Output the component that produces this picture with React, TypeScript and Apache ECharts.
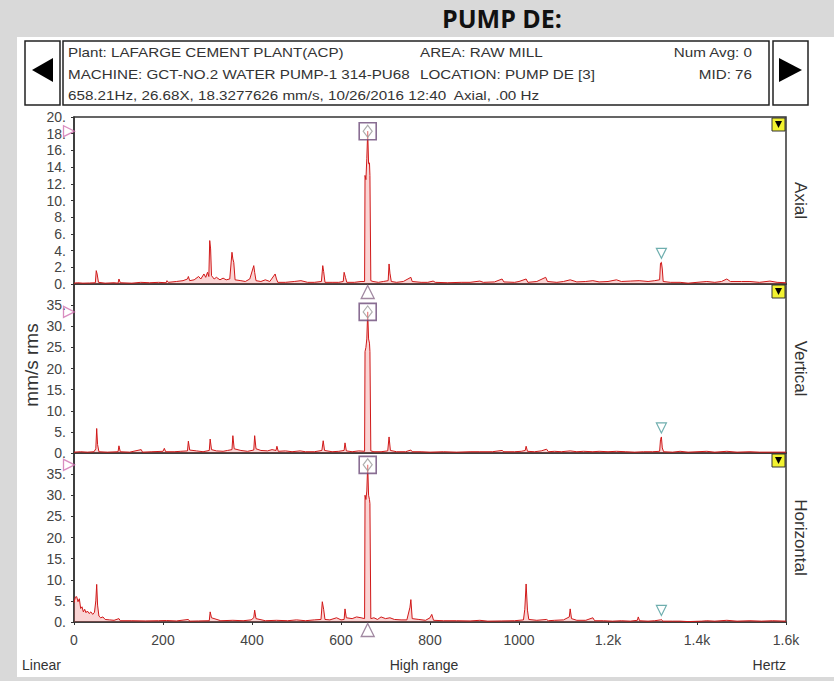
import { useEffect, useRef } from "react";
import * as echarts from "echarts";

// ---------- DATA ----------
const axialSpectrum: number[][] = [
  [0, 0.1], [8, 0.15], [20, 0.1], [35, 0.12], [48, 0.15], [50, 1.6], [52, 1.2], [55, 0.2], [70, 0.1], [90, 0.15],
  [99, 0.1], [101, 0.6], [104, 0.15], [130, 0.1], [150, 0.2], [170, 0.15], [190, 0.2], [207, 0.15], [209, 0.4], [212, 0.2],
  [230, 0.3], [245, 0.4], [255, 0.6], [257, 0.9], [260, 0.4], [270, 0.5], [280, 0.9], [285, 0.6], [292, 1.2], [296, 0.8],
  [300, 1.4], [303, 0.9], [305, 5.2], [307, 4.2], [309, 1.0], [315, 0.6], [320, 0.8], [328, 0.5], [335, 0.7], [342, 0.5],
  [350, 0.6], [355, 3.8], [357, 3.0], [359, 2.6], [362, 0.5], [375, 0.4], [385, 0.3], [395, 0.6], [404, 2.2], [406, 1.4],
  [409, 0.4], [420, 0.3], [430, 0.5], [440, 0.3], [452, 1.2], [455, 0.6], [458, 0.2], [475, 0.2], [495, 0.3], [510, 0.4],
  [525, 0.2], [540, 0.2], [556, 0.3], [559, 2.2], [561, 1.5], [564, 0.2], [580, 0.2], [595, 0.2], [605, 0.3], [607, 1.4],
  [610, 0.8], [613, 0.2], [630, 0.2], [645, 0.3], [653, 0.3], [654, 13], [656, 12.5], [658, 15], [660, 18.3], [662, 14.4],
  [664, 14.5], [665, 13], [667, 0.4], [672, 0.3], [684, 0.2], [695, 0.3], [706, 0.4], [708, 2.4], [710, 1.3], [713, 0.3],
  [725, 0.2], [740, 0.3], [757, 0.8], [760, 0.3], [780, 0.2], [795, 0.2], [807, 0.35], [812, 0.2], [840, 0.15], [870, 0.2],
  [890, 0.2], [912, 0.35], [920, 0.2], [945, 0.25], [962, 0.6], [966, 0.25], [990, 0.2], [1000, 0.3], [1016, 0.6], [1020, 0.2],
  [1040, 0.3], [1060, 0.8], [1064, 0.3], [1085, 0.2], [1100, 0.3], [1115, 0.5], [1130, 0.25], [1150, 0.3], [1166, 0.4], [1180, 0.25],
  [1200, 0.3], [1219, 0.5], [1230, 0.3], [1250, 0.35], [1270, 0.4], [1290, 0.3], [1305, 0.4], [1316, 0.5], [1318, 2.5], [1320, 2.6],
  [1322, 1.8], [1324, 0.3], [1340, 0.2], [1362, 0.2], [1380, 0.1], [1400, 0.2], [1422, 0.3], [1440, 0.2], [1455, 0.3], [1467, 0.6],
  [1475, 0.3], [1500, 0.3], [1519, 0.3], [1540, 0.2], [1564, 0.35], [1580, 0.2], [1600, 0.15],
];

const verticalSpectrum: number[][] = [
  [0, 0.2], [15, 0.3], [30, 0.2], [45, 0.3], [49, 1], [51, 5.8], [53, 2], [56, 0.3], [75, 0.2], [99, 0.3],
  [101, 1.7], [104, 0.3], [125, 0.2], [151, 0.8], [154, 0.2], [175, 0.3], [200, 0.4], [203, 1.1], [206, 0.3], [225, 0.3],
  [240, 0.4], [255, 0.5], [257, 2.8], [260, 0.7], [275, 0.5], [290, 0.3], [304, 0.6], [306, 3.3], [309, 0.8], [320, 0.5],
  [335, 0.4], [345, 0.6], [355, 0.8], [357, 4.1], [360, 1.0], [375, 0.6], [390, 0.4], [404, 0.7], [406, 4.1], [409, 1.0],
  [420, 0.6], [435, 0.5], [445, 0.8], [454, 0.6], [456, 1.6], [459, 0.4], [475, 0.5], [490, 0.3], [508, 0.5], [520, 0.3],
  [540, 0.3], [557, 0.6], [560, 2.9], [563, 0.6], [580, 0.3], [595, 0.4], [607, 0.6], [609, 2.4], [612, 0.5], [625, 0.3],
  [640, 0.5], [653, 0.4], [654, 24], [656, 25], [658, 27], [660, 33.4], [662, 27], [664, 26], [665, 24], [667, 0.5],
  [674, 0.3], [690, 0.3], [705, 0.5], [708, 3.8], [711, 0.6], [725, 0.3], [745, 0.3], [757, 0.7], [760, 0.3], [780, 0.3],
  [800, 0.2], [830, 0.3], [860, 0.2], [890, 0.3], [912, 0.3], [940, 0.3], [962, 0.6], [966, 0.3], [990, 0.3], [1005, 0.4],
  [1014, 0.6], [1016, 1.6], [1019, 0.4], [1035, 0.3], [1050, 0.5], [1062, 0.9], [1066, 0.3], [1080, 0.4], [1095, 0.3], [1115, 0.5],
  [1130, 0.3], [1145, 0.4], [1166, 0.3], [1180, 0.4], [1200, 0.3], [1219, 0.4], [1240, 0.3], [1260, 0.2], [1280, 0.3], [1300, 0.3],
  [1316, 0.4], [1318, 3.2], [1320, 3.8], [1322, 1.2], [1325, 0.3], [1345, 0.2], [1362, 0.4], [1380, 0.2], [1422, 0.4], [1440, 0.2],
  [1467, 0.4], [1490, 0.2], [1519, 0.3], [1540, 0.2], [1570, 0.2], [1600, 0.2],
];

const horizontalSpectrum: number[][] = [
  [0, 4.6], [3, 5.9], [6, 6.0], [9, 4.8], [12, 5.5], [15, 3.2], [18, 3.6], [21, 2.4], [24, 3.0], [27, 2.2],
  [30, 2.6], [34, 2.0], [38, 2.4], [42, 1.8], [46, 2.3], [49, 5], [51, 8.9], [53, 4], [56, 1.4], [60, 1.0],
  [65, 1.2], [70, 0.6], [80, 0.5], [90, 0.4], [101, 0.8], [104, 0.3], [130, 0.3], [160, 0.25], [190, 0.3], [208, 0.35],
  [230, 0.25], [257, 0.6], [260, 0.2], [280, 0.25], [304, 0.3], [306, 2.4], [309, 1.0], [330, 0.3], [357, 0.4], [380, 0.3],
  [398, 0.5], [404, 1.0], [406, 2.8], [409, 0.8], [430, 0.3], [455, 0.4], [480, 0.3], [500, 0.5], [520, 0.3], [540, 0.5],
  [555, 0.6], [558, 4.8], [561, 3], [564, 0.6], [575, 0.5], [590, 1.0], [600, 0.5], [607, 0.6], [609, 3.1], [612, 1.0],
  [625, 0.8], [635, 1.2], [645, 1.0], [653, 0.8], [654, 30], [656, 29], [658, 31], [660, 37.2], [662, 30], [664, 29],
  [665, 28], [667, 0.8], [674, 1.0], [682, 0.6], [690, 1.2], [700, 0.8], [710, 1.0], [720, 0.6], [735, 0.5], [748, 0.5],
  [755, 3.5], [757, 5.3], [760, 0.8], [775, 0.6], [790, 0.4], [800, 1.0], [804, 1.8], [808, 0.4], [830, 0.3], [860, 0.3],
  [890, 0.25], [912, 0.4], [930, 0.2], [960, 0.25], [990, 0.3], [1010, 0.5], [1013, 3], [1016, 9.0], [1019, 2.8], [1022, 0.6],
  [1040, 0.4], [1062, 0.6], [1066, 0.3], [1080, 0.4], [1100, 0.5], [1113, 1.2], [1115, 3.1], [1118, 0.8], [1130, 0.4], [1150, 0.4],
  [1166, 1.0], [1170, 0.3], [1190, 0.3], [1210, 0.2], [1230, 0.3], [1250, 0.2], [1266, 0.4], [1268, 1.2], [1271, 0.3], [1290, 0.2],
  [1305, 0.3], [1318, 0.5], [1320, 0.6], [1323, 0.2], [1345, 0.2], [1362, 0.2], [1380, 0.1], [1410, 0.2], [1422, 0.3], [1440, 0.2],
  [1467, 0.4], [1490, 0.2], [1519, 0.3], [1545, 0.2], [1570, 0.3], [1600, 0.2],
];

const spectra = [axialSpectrum, verticalSpectrum, horizontalSpectrum];
const panelNames = ["Axial", "Vertical", "Horizontal"];
const yMax = [20, 40, 40];
const yInterval = [2, 5, 5];
const yLabelHidden = [null, 40, 40];
const xMin = 0;
const xMax = 1600;
const xInterval = 200;
const peakFreq = 660;
const peakAmp = [18.3, 33.4, 37.2];
const refFreq = 1320;
const refAmp = [2.6, 3.8, 0.6];

const titleText = "PUMP DE:";
const headerLeft = [
  "Plant: LAFARGE CEMENT PLANT(ACP)",
  "MACHINE: GCT-NO.2 WATER PUMP-1 314-PU68",
  "658.21Hz, 26.68X, 18.3277626 mm/s, 10/26/2016 12:40  Axial, .00 Hz",
];
const headerMid = ["AREA: RAW MILL", "LOCATION: PUMP DE [3]", ""];
const headerRight = ["Num Avg: 0", "MID: 76", ""];
const yAxisName = "mm/s rms";
const footerLeft = "Linear";
const footerMid = "High range";
const footerRight = "Hertz";

// ---------- LAYOUT ----------
const PLOT_LEFT = 74;
const PLOT_WIDTH = 712;
const panels = [
  { top: 117, height: 167 },
  { top: 284, height: 169 },
  { top: 453, height: 169 },
];
const FONT = '"Liberation Sans", Arial, sans-serif';

function fmtX(v: number) {
  return v >= 1200 ? (v / 1000).toFixed(1) + "k" : String(v);
}

export default function App() {
  const ref = useRef<HTMLDivElement>(null);

  useEffect(() => {
    if (!ref.current) return;
    const chart = echarts.init(ref.current, undefined, { renderer: "svg" });

    const grids = panels.map((p) => ({
      left: PLOT_LEFT,
      width: PLOT_WIDTH,
      top: p.top,
      height: p.height,
      show: true,
      backgroundColor: "#ffffff",
      borderColor: "#333333",
      borderWidth: 1.5,
      containLabel: false,
    }));

    const xAxes = panels.map((_, i) => ({
      type: "value",
      gridIndex: i,
      min: xMin,
      max: xMax,
      interval: xInterval,
      axisLine: { show: true, lineStyle: { color: "#333", width: 1.5 } },
      axisTick: { show: i === 2, length: 3, lineStyle: { color: "#333" } },
      axisLabel: {
        show: i === 2,
        formatter: fmtX,
        fontFamily: FONT,
        fontSize: 14,
        color: "#444",
        margin: 11,
      },
      splitLine: { show: false },
    }));

    const yAxes = panels.map((_, i) => ({
      type: "value",
      gridIndex: i,
      min: 0,
      max: yMax[i],
      interval: yInterval[i],
      axisLine: { show: true, lineStyle: { color: "#333", width: 1.5 } },
      axisTick: { show: true, length: 3, lineStyle: { color: "#333" } },
      axisLabel: {
        formatter: (v: number) => (yLabelHidden[i] !== null && v >= (yLabelHidden[i] as number) ? "" : v + "."),
        fontFamily: FONT,
        fontSize: 14,
        color: "#444",
        margin: 8,
      },
      splitLine: { show: false },
    }));

    const series: any[] = [];
    spectra.forEach((data, i) => {
      series.push({
        type: "line",
        xAxisIndex: i,
        yAxisIndex: i,
        data,
        symbol: "none",
        showSymbol: false,
        lineStyle: { color: "#d01818", width: 1 },
        areaStyle: { color: "rgba(236,100,100,0.4)", origin: "start" },
        z: 3,
      });
      const mk = (extra: any) => ({
        type: "scatter",
        xAxisIndex: i,
        yAxisIndex: i,
        clip: false,
        z: 5,
        silent: true,
        ...extra,
      });
      // peak box
      series.push(
        mk({
          data: [[peakFreq, peakAmp[i]]],
          symbol: "rect",
          symbolSize: 17,
          itemStyle: { color: "rgba(255,255,255,0.6)", borderColor: "#6b4a78", borderWidth: 1.6 },
        })
      );
      series.push(
        mk({
          data: [[peakFreq, peakAmp[i]]],
          symbol: "diamond",
          symbolSize: [9, 12],
          itemStyle: { color: "rgba(0,0,0,0)", borderColor: "#999", borderWidth: 1.2 },
          z: 6,
        })
      );
      // left level marker
      series.push(
        mk({
          data: [[xMin, peakAmp[i]]],
          symbol: "triangle",
          symbolRotate: -90,
          symbolSize: 11,
          symbolOffset: [-5, 0],
          itemStyle: { color: "rgba(0,0,0,0)", borderColor: "#d070b0", borderWidth: 1.3 },
        })
      );
      // reference harmonic marker
      series.push(
        mk({
          data: [[refFreq, refAmp[i]]],
          symbol: "triangle",
          symbolRotate: 180,
          symbolSize: 10,
          symbolOffset: [0, -9],
          itemStyle: { color: "rgba(0,0,0,0)", borderColor: "#4a9a9a", borderWidth: 1.2 },
        })
      );
      // below-axis cursor
      if (i !== 1) {
        series.push(
          mk({
            data: [[peakFreq, 0]],
            symbol: "triangle",
            symbolSize: 13,
            symbolOffset: [0, 8],
            itemStyle: { color: "rgba(255,255,255,0.8)", borderColor: "#8a6a8a", borderWidth: 1.3 },
            z: 7,
          })
        );
      }
    });

    const textStyle = (text: string, size: number, align: string, extra: any = {}) => ({
      text,
      font: `${extra.weight || "normal"} ${size}px ${extra.family || FONT}`,
      fontSize: size,
      fontFamily: extra.family || FONT,
      fontWeight: extra.weight || "normal",
      fill: extra.fill || "#333",
      align,
      textAlign: align,
      verticalAlign: "middle",
      textVerticalAlign: "middle",
    });

    const graphic: any[] = [
      { type: "rect", z: -10, shape: { x: 0, y: 0, width: 834, height: 681 }, style: { fill: "#d9d9d9" } },
      { type: "rect", z: -9, shape: { x: 17, y: 37, width: 817, height: 640 }, style: { fill: "#ffffff" } },
      {
        type: "text",
        x: 502,
        y: 18,
        style: textStyle(titleText, 25, "center", { weight: "bold", family: '"Open Sans", "Noto Sans", sans-serif', fill: "#111" }),
      },
      // header boxes
      { type: "rect", shape: { x: 25, y: 41, width: 35, height: 64 }, style: { fill: "#fff", stroke: "#222", lineWidth: 1.5 } },
      { type: "rect", shape: { x: 63, y: 41, width: 706, height: 64 }, style: { fill: "#fff", stroke: "#222", lineWidth: 1.5 } },
      { type: "rect", shape: { x: 773, y: 41, width: 35, height: 64 }, style: { fill: "#fff", stroke: "#222", lineWidth: 1.5 } },
      { type: "polygon", shape: { points: [[32, 70], [53, 58], [53, 82]] }, style: { fill: "#000" } },
      { type: "polygon", shape: { points: [[779, 58], [802, 70], [779, 82]] }, style: { fill: "#000" } },
    ];
    const rowsY = [52.5, 74, 95.5];
    headerLeft.forEach((t, r) => {
      graphic.push({ type: "text", x: 68, y: rowsY[r], scaleX: 1.17, style: textStyle(t, 13, "left") });
    });
    headerMid.forEach((t, r) => {
      if (t) graphic.push({ type: "text", x: 420, y: rowsY[r], scaleX: 1.17, style: textStyle(t, 13, "left") });
    });
    headerRight.forEach((t, r) => {
      if (t) graphic.push({ type: "text", x: 752, y: rowsY[r], scaleX: 1.17, style: textStyle(t, 13, "right") });
    });

    panels.forEach((p, i) => {
      const x0 = PLOT_LEFT + PLOT_WIDTH - 14;
      graphic.push({
        type: "rect",
        z: 10,
        shape: { x: x0, y: p.top + 1, width: 13, height: 13 },
        style: { fill: "#f2f230", stroke: "#333", lineWidth: 1 },
      });
      graphic.push({
        type: "polygon",
        z: 11,
        shape: { points: [[x0 + 3, p.top + 4], [x0 + 10, p.top + 4], [x0 + 6.5, p.top + 11]] },
        style: { fill: "#000" },
      });
      graphic.push({
        type: "text",
        x: 800,
        y: p.top + p.height / 2,
        rotation: -Math.PI / 2,
        style: textStyle(panelNames[i], 17, "center"),
      });
    });

    graphic.push({
      type: "text",
      x: 31,
      y: 365,
      rotation: Math.PI / 2,
      style: textStyle(yAxisName, 19, "center"),
    });
    graphic.push({ type: "text", x: 22, y: 665, style: textStyle(footerLeft, 14, "left") });
    graphic.push({ type: "text", x: 424, y: 665, style: textStyle(footerMid, 14, "center") });
    graphic.push({ type: "text", x: 786, y: 665, style: textStyle(footerRight, 14, "right") });

    chart.setOption({
      animation: false,
      backgroundColor: "#d9d9d9",
      grid: grids,
      xAxis: xAxes,
      yAxis: yAxes,
      series,
      graphic,
    });

    return () => chart.dispose();
  }, []);

  return (
    <div
      ref={ref}
      style={{ position: "fixed", left: 0, top: 0, width: 834, height: 681 }}
    />
  );
}
